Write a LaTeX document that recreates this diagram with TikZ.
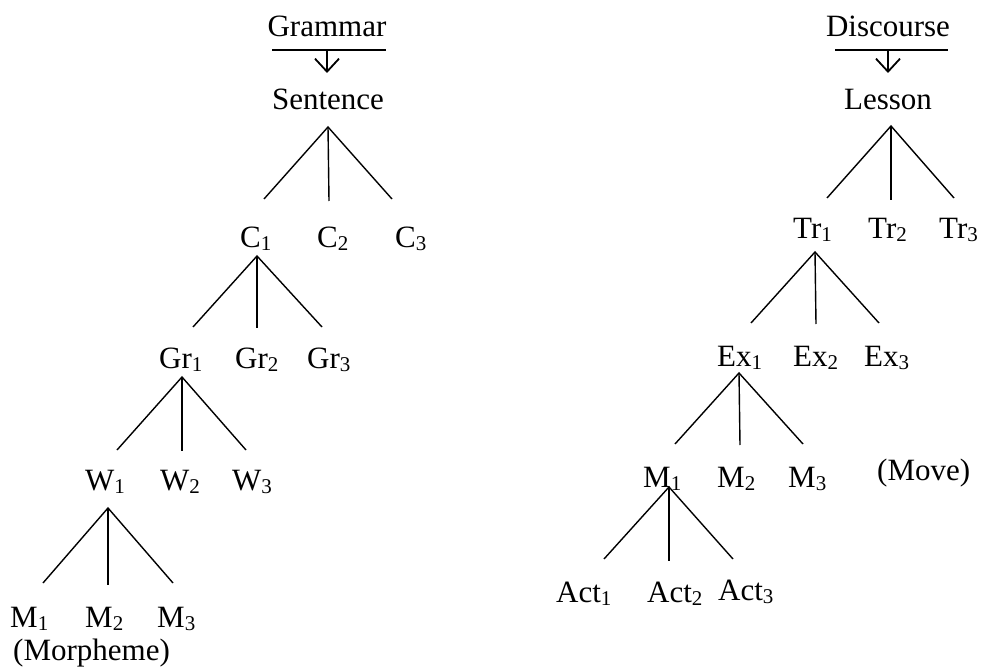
\documentclass[tikz,border=0pt]{standalone}
\usepackage{fontspec}
\setmainfont{Liberation Serif}
\usetikzlibrary{arrows.meta}
\newcommand{\idx}[1]{\raisebox{-3pt}{\fontsize{21}{21}\selectfont #1}}
\tikzset{
  lbl/.style={anchor=base west, inner sep=0pt},
  head/.style={anchor=base, inner sep=0pt},
  branch/.style={line width=1.4pt},
  bar/.style={line width=1.8pt},
  down/.style={line width=1.8pt, -{Straight Barb[length=13pt,width=24pt]}}
}

\begin{document}
\begin{tikzpicture}[x=1pt, y=-1pt, font=\fontsize{31}{37}\selectfont]
  \useasboundingbox (0,0) rectangle (982,671);

  % Grammar heading
  \node[head] (gram) at (327,37) {Grammar};
  \coordinate (gram-l) at (272,50);
  \coordinate (gram-r) at (386,50);
  \coordinate (gram-bar) at (327,50);
  \coordinate (sent-in) at (327,73);
  \draw[bar] (gram-l) -- (gram-r);
  \draw[down] (gram-bar) -- (sent-in);
  \node[head] (sent) at (328,110) {Sentence};

  % Clauses
  \node[lbl] (c1) at (240,247) {C\idx{1}};
  \node[lbl] (c2) at (317,247) {C\idx{2}};
  \node[lbl] (c3) at (395,247) {C\idx{3}};
  \coordinate (sent-apex) at (328,127);
  \coordinate (c-a) at (264,199);
  \coordinate (c-b) at (329,201);
  \coordinate (c-c) at (392,199);
  \draw[branch] (c-a) -- (sent-apex) -- (c-c);
  \draw[branch] (sent-apex) -- (c-b);

  % Groups
  \node[lbl] (gr1) at (159,368) {Gr\idx{1}};
  \node[lbl] (gr2) at (235,368) {Gr\idx{2}};
  \node[lbl] (gr3) at (307,368) {Gr\idx{3}};
  \coordinate (c1-apex) at (257,256);
  \coordinate (gr-a) at (193,327);
  \coordinate (gr-b) at (257,328);
  \coordinate (gr-c) at (322,327);
  \draw[branch] (gr-a) -- (c1-apex) -- (gr-c);
  \draw[branch] (c1-apex) -- (gr-b);

  % Words
  \node[lbl] (w1) at (85,490) {W\idx{1}};
  \node[lbl] (w2) at (160,490) {W\idx{2}};
  \node[lbl] (w3) at (232,490) {W\idx{3}};
  \coordinate (gr1-apex) at (182,377);
  \coordinate (w-a) at (117,450);
  \coordinate (w-b) at (182,451);
  \coordinate (w-c) at (246,450);
  \draw[branch] (w-a) -- (gr1-apex) -- (w-c);
  \draw[branch] (gr1-apex) -- (w-b);

  % Morphemes
  \node[lbl] (m1) at (10,627) {M\idx{1}};
  \node[lbl] (m2) at (85,627) {M\idx{2}};
  \node[lbl] (m3) at (157,627) {M\idx{3}};
  \node[lbl] (morph) at (13,660) {(Morpheme)};
  \coordinate (w1-apex) at (108,508);
  \coordinate (m-a) at (43,583);
  \coordinate (m-b) at (108,585);
  \coordinate (m-c) at (173,583);
  \draw[branch] (m-a) -- (w1-apex) -- (m-c);
  \draw[branch] (w1-apex) -- (m-b);

  % Discourse heading
  \node[head] (disc) at (888,37) {Discourse};
  \coordinate (disc-l) at (835,50);
  \coordinate (disc-r) at (948,50);
  \coordinate (disc-bar) at (888,50);
  \coordinate (less-in) at (888,73);
  \draw[bar] (disc-l) -- (disc-r);
  \draw[down] (disc-bar) -- (less-in);
  \node[head] (less) at (888,110) {Lesson};

  % Transactions
  \node[lbl] (tr1) at (793,238) {Tr\idx{1}};
  \node[lbl] (tr2) at (868,238) {Tr\idx{2}};
  \node[lbl] (tr3) at (939,238) {Tr\idx{3}};
  \coordinate (less-apex) at (891,126);
  \coordinate (tr-a) at (827,198);
  \coordinate (tr-b) at (891,200);
  \coordinate (tr-c) at (954,198);
  \draw[branch] (tr-a) -- (less-apex) -- (tr-c);
  \draw[branch] (less-apex) -- (tr-b);

  % Exchanges
  \node[lbl] (ex1) at (717,366) {Ex\idx{1}};
  \node[lbl] (ex2) at (793,366) {Ex\idx{2}};
  \node[lbl] (ex3) at (864,366) {Ex\idx{3}};
  \coordinate (tr1-apex) at (815,252);
  \coordinate (ex-a) at (751,323);
  \coordinate (ex-b) at (816,324);
  \coordinate (ex-c) at (879,323);
  \draw[branch] (ex-a) -- (tr1-apex) -- (ex-c);
  \draw[branch] (tr1-apex) -- (ex-b);

  % Moves
  \node[lbl] (mv1) at (643,487) {M\idx{1}};
  \node[lbl] (mv2) at (717,487) {M\idx{2}};
  \node[lbl] (mv3) at (788,487) {M\idx{3}};
  \node[lbl] (move) at (877,480) {(Move)};
  \coordinate (ex1-apex) at (739,373);
  \coordinate (mv-a) at (675,444);
  \coordinate (mv-b) at (740,445);
  \coordinate (mv-c) at (803,444);
  \draw[branch] (mv-a) -- (ex1-apex) -- (mv-c);
  \draw[branch] (ex1-apex) -- (mv-b);

  % Acts
  \node[lbl] (act1) at (556,602) {Act\idx{1}};
  \node[lbl] (act2) at (647,602) {Act\idx{2}};
  \node[lbl] (act3) at (718,600) {Act\idx{3}};
  \coordinate (mv1-apex) at (669,487);
  \coordinate (act-a) at (604,559);
  \coordinate (act-b) at (669,561);
  \coordinate (act-c) at (733,559);
  \draw[branch] (act-a) -- (mv1-apex) -- (act-c);
  \draw[branch] (mv1-apex) -- (act-b);

\end{tikzpicture}
\end{document}
